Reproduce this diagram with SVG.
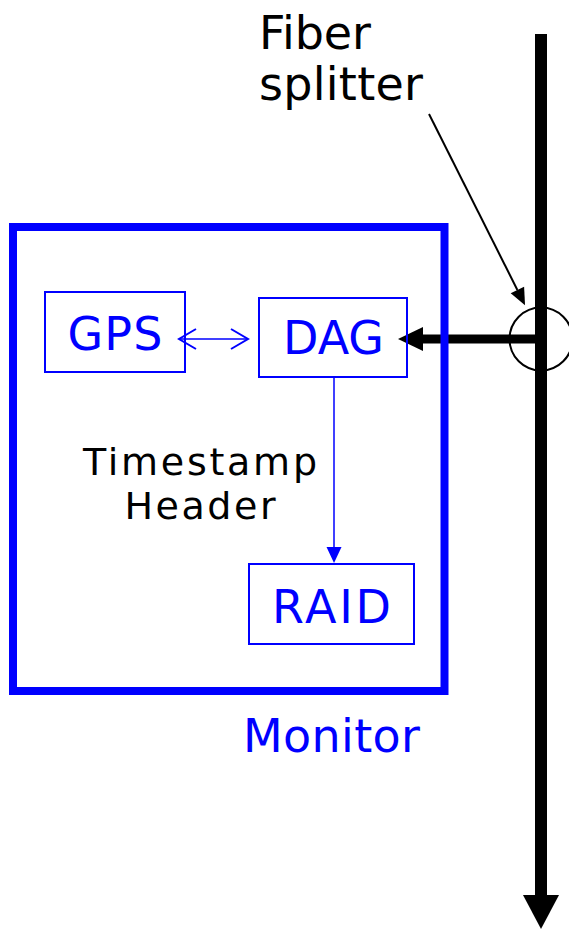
<svg xmlns="http://www.w3.org/2000/svg" width="569" height="930" viewBox="0 0 569 930">
<style>
.t{font-family:"DejaVu Sans","Verdana",sans-serif;}
.blue{fill:#0000FF;}
.blk{fill:#000000;}
.box{fill:none;stroke:#0000FF;stroke-width:2;}
</style>
<defs>
<marker id="hThick" markerUnits="userSpaceOnUse" markerWidth="26" markerHeight="24" refX="0" refY="12" orient="auto" overflow="visible">
<path d="M0,0 L25,12 L0,24 z" fill="#000"/>
</marker>
<marker id="hDown" markerUnits="userSpaceOnUse" markerWidth="35" markerHeight="36" refX="0" refY="18" orient="auto" overflow="visible">
<path d="M0,0 L34,18 L0,36 z" fill="#000"/>
</marker>
<marker id="hPtr" markerUnits="userSpaceOnUse" markerWidth="17" markerHeight="15" refX="0" refY="7.5" orient="auto" overflow="visible">
<path d="M0,0 L17,7.5 L0,15 z" fill="#000"/>
</marker>
<marker id="hBlue" markerUnits="userSpaceOnUse" markerWidth="16" markerHeight="15" refX="0" refY="7.5" orient="auto" overflow="visible">
<path d="M0,0 L16,7.5 L0,15 z" fill="#0000FF"/>
</marker>
<marker id="hOpen" markerUnits="userSpaceOnUse" markerWidth="18" markerHeight="22" refX="17" refY="10" orient="auto-start-reverse" overflow="visible">
<path d="M0,0 L17,10 L0,20" fill="none" stroke="#0000FF" stroke-width="2"/>
</marker>
</defs>

<g id="connectors">
<line x1="541" y1="34" x2="541" y2="895" stroke="#000" stroke-width="12" marker-end="url(#hDown)"/>
<line x1="541" y1="339" x2="423" y2="339" stroke="#000" stroke-width="9" marker-end="url(#hThick)"/>
<line x1="429" y1="114" x2="517.4" y2="290" stroke="#000" stroke-width="2" marker-end="url(#hPtr)"/>
<line x1="179" y1="339" x2="248" y2="339" stroke="#0000FF" stroke-width="1.5" marker-start="url(#hOpen)" marker-end="url(#hOpen)"/>
<line x1="334" y1="377" x2="334" y2="547" stroke="#0000FF" stroke-width="1.5" marker-end="url(#hBlue)"/>
</g>

<g id="splitter">
<circle cx="541" cy="339" r="31.5" fill="none" stroke="#000" stroke-width="2"/>
<text class="t blk" x="259" y="49" font-size="46" textLength="112" lengthAdjust="spacing">Fiber</text>
<text class="t blk" x="259" y="100" font-size="46" textLength="164" lengthAdjust="spacing">splitter</text>
</g>

<g id="monitor">
<rect x="13" y="227" width="431.5" height="464" fill="none" stroke="#0000FF" stroke-width="8"/>
<text class="t blue" x="331.5" y="751.5" font-size="46" text-anchor="middle" textLength="177" lengthAdjust="spacing">Monitor</text>
</g>

<g id="gps">
<rect class="box" x="45" y="292" width="140" height="80"/>
<text class="t blue" x="115" y="350" font-size="46" text-anchor="middle" textLength="95" lengthAdjust="spacing">GPS</text>
</g>

<g id="dag">
<rect class="box" x="259" y="298" width="148" height="79"/>
<text class="t blue" x="333.5" y="354" font-size="46" text-anchor="middle" textLength="101" lengthAdjust="spacing">DAG</text>
</g>

<g id="raid">
<rect class="box" x="249" y="564" width="165" height="80"/>
<text class="t blue" x="331.5" y="622.5" font-size="46" text-anchor="middle" textLength="119" lengthAdjust="spacing">RAID</text>
</g>

<g id="label">
<text class="t blk" x="200" y="475" font-size="38" text-anchor="middle" textLength="234" lengthAdjust="spacing">Timestamp</text>
<text class="t blk" x="200" y="519" font-size="38" text-anchor="middle" textLength="151" lengthAdjust="spacing">Header</text>
</g>
</svg>
